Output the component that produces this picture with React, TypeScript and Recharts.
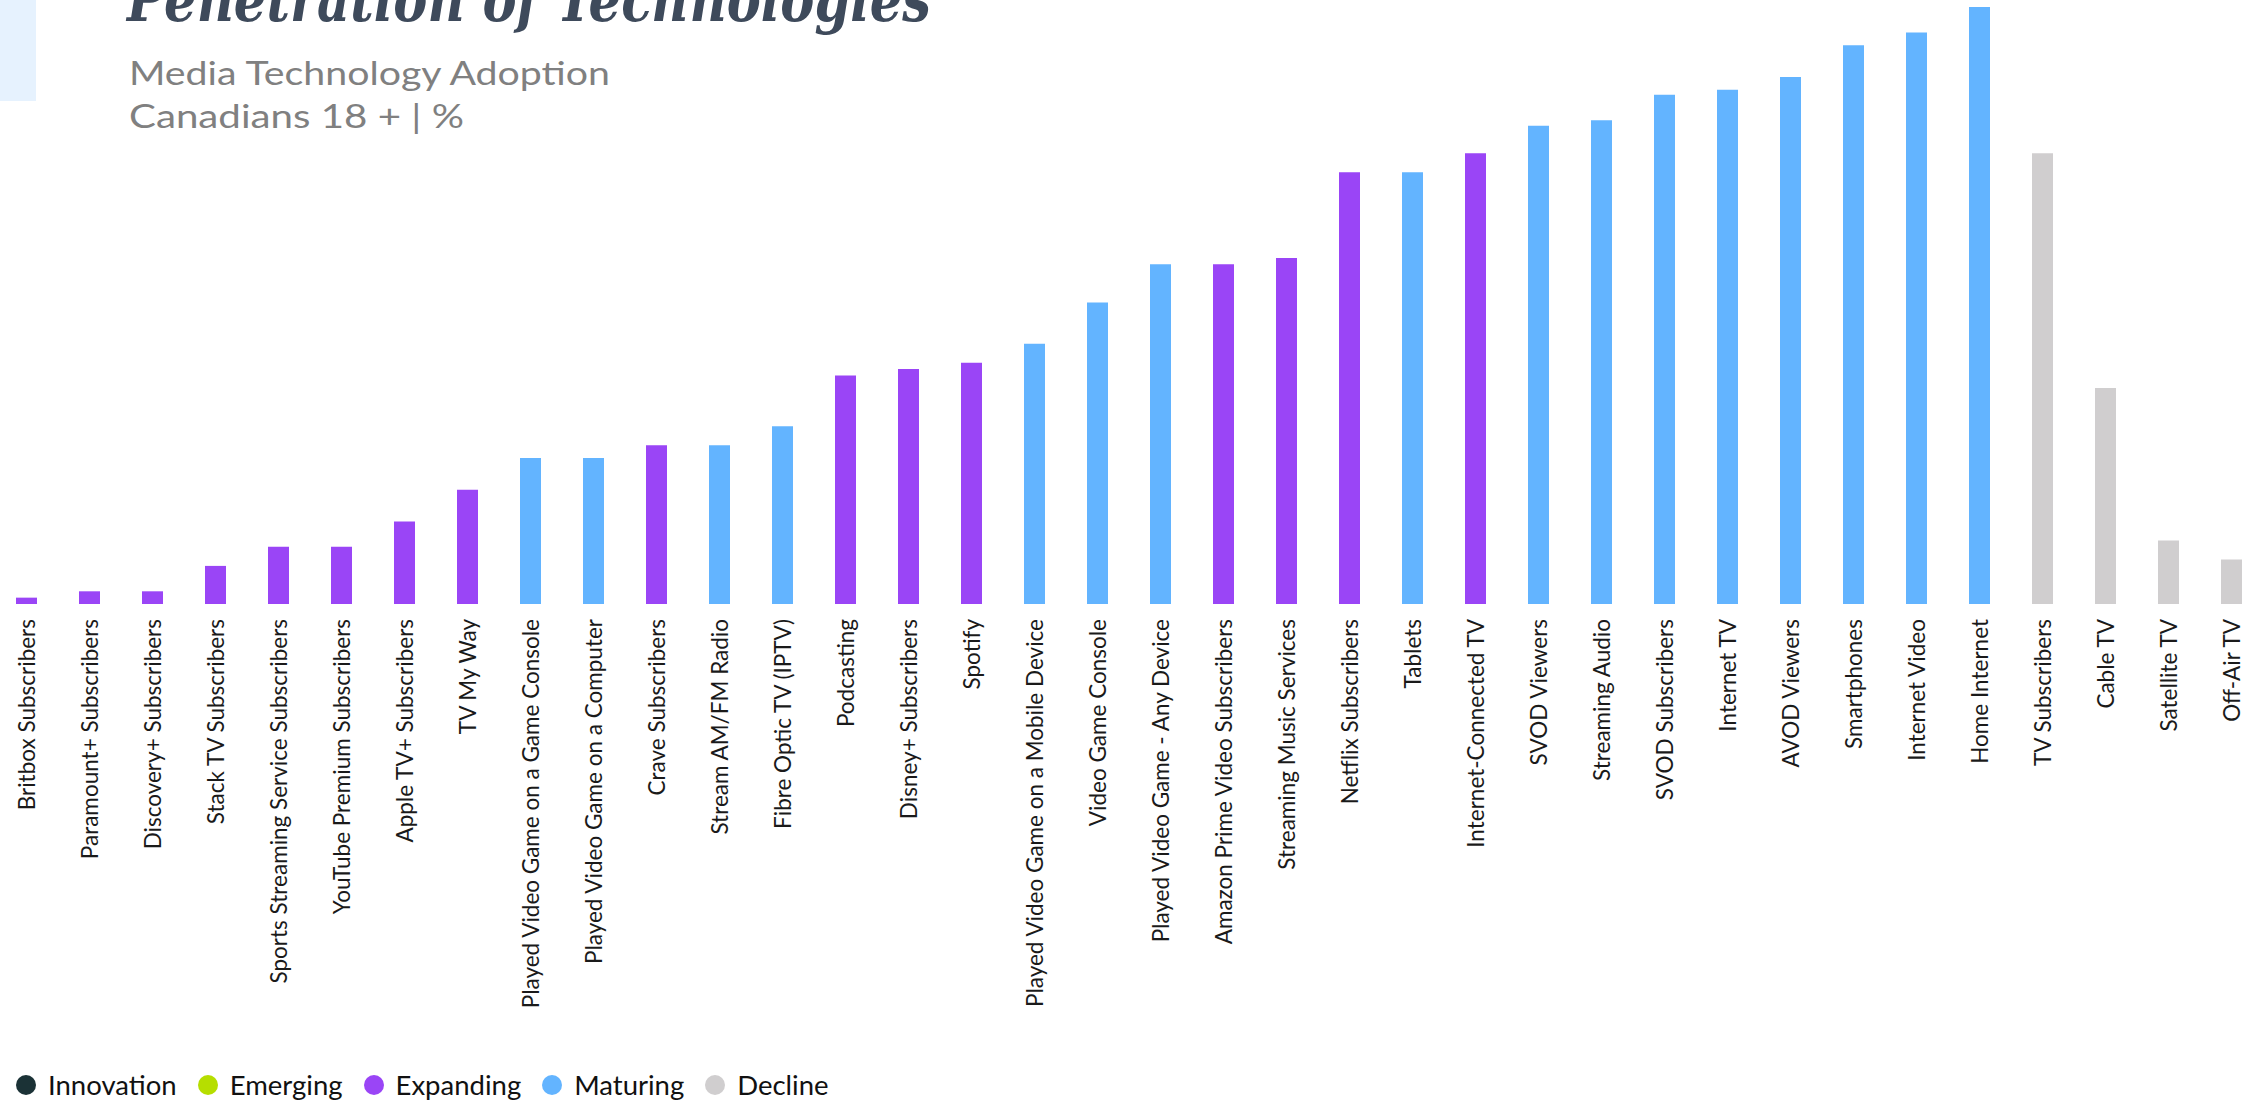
import React from 'react';
import { BarChart, Bar, XAxis, YAxis, Cell } from 'recharts';

const categories = [
  'Britbox Subscribers', 'Paramount+ Subscribers', 'Discovery+ Subscribers', 'Stack TV Subscribers',
  'Sports Streaming Service Subscribers', 'YouTube Premium Subscribers', 'Apple TV+ Subscribers', 'TV My Way',
  'Played Video Game on a Game Console', 'Played Video Game on a Computer', 'Crave Subscribers', 'Stream AM/FM Radio',
  'Fibre Optic TV (IPTV)', 'Podcasting', 'Disney+ Subscribers', 'Spotify',
  'Played Video Game on a Mobile Device', 'Video Game Console', 'Played Video Game - Any Device', 'Amazon Prime Video Subscribers',
  'Streaming Music Services', 'Netflix Subscribers', 'Tablets', 'Internet-Connected TV',
  'SVOD Viewers', 'Streaming Audio', 'SVOD Subscribers', 'Internet TV',
  'AVOD Viewers', 'Smartphones', 'Internet Video', 'Home Internet',
  'TV Subscribers', 'Cable TV', 'Satellite TV', 'Off-Air TV',
];

const values = [
  1, 2, 2, 6, 9, 9, 13, 18,
  23, 23, 25, 25, 28, 36, 37, 38,
  41, 47.5, 53.5, 53.5, 54.5, 68, 68, 71,
  75.3, 76.2, 80.2, 81, 83, 88, 90, 94,
  71, 34, 10, 7,
];

const stages = [
  'Expanding', 'Expanding', 'Expanding', 'Expanding', 'Expanding', 'Expanding', 'Expanding', 'Expanding',
  'Maturing', 'Maturing', 'Expanding', 'Maturing', 'Maturing', 'Expanding', 'Expanding', 'Expanding',
  'Maturing', 'Maturing', 'Maturing', 'Expanding', 'Expanding', 'Expanding', 'Maturing', 'Expanding',
  'Maturing', 'Maturing', 'Maturing', 'Maturing', 'Maturing', 'Maturing', 'Maturing', 'Maturing',
  'Decline', 'Decline', 'Decline', 'Decline',
];

const legendNames = ['Innovation', 'Emerging', 'Expanding', 'Maturing', 'Decline'];
const legendColors = ['#1b3236', '#b6de00', '#9a45f6', '#63b4ff', '#d0cecf'];

const titleText = 'Penetration of Technologies';
const subtitleLines = ['Media Technology Adoption', 'Canadians 18 + | %'];

const colorOf = (stage: string) => legendColors[legendNames.indexOf(stage)];

const data = categories.map((name, i) => ({ name, value: values[i], stage: stages[i] }));

const Tick = (props: any) => {
  const { x, y, payload } = props;
  return (
    <g transform={`translate(${x},${y + 15})`}>
      <text
        transform="rotate(-90)"
        x={0}
        y={0}
        textAnchor="end"
        dominantBaseline="central"
        fontFamily="Lato"
        fontSize={22.5}
        fill="#1a1a1a"
      >
        {payload.value}
      </text>
    </g>
  );
};

export default function App() {
  return (
    <div style={{ position: 'absolute', left: 0, top: 0, width: 2254, height: 1103, overflow: 'hidden', background: '#fff' }}>
      <div style={{ position: 'absolute', left: 0, top: 0, width: 36, height: 101, background: '#e6f2fe' }} />
      <svg style={{ position: 'absolute', left: 0, top: 0 }} width={1000} height={140}>
        <text
          x={127}
          y={21}
          fontFamily="DejaVu Serif"
          fontWeight="bold"
          fontStyle="italic"
          fontSize={62}
          fill="#3e4a5b"
          textLength={804}
          lengthAdjust="spacingAndGlyphs"
        >
          {titleText}
        </text>
        <text x={129} y={85} fontFamily="Lato" fontSize={33} fill="#808080" textLength={481} lengthAdjust="spacingAndGlyphs">
          {subtitleLines[0]}
        </text>
        <text x={129} y={128} fontFamily="Lato" fontSize={33} fill="#808080" textLength={335} lengthAdjust="spacingAndGlyphs">
          {subtitleLines[1]}
        </text>
      </svg>
      <div style={{ position: 'absolute', left: -5.5, top: -40 }}>
        <BarChart width={2268} height={1100} data={data} margin={{ top: 9, right: 0, bottom: 0, left: 0 }}>
          <YAxis hide domain={[0, 100]} />
          <XAxis
            dataKey="name"
            interval={0}
            axisLine={false}
            tickLine={false}
            tickSize={0}
            tickMargin={0}
            height={456}
            tick={<Tick />}
          />
          <Bar dataKey="value" barSize={21} isAnimationActive={false}>
            {data.map((d, i) => (
              <Cell key={i} fill={colorOf(d.stage)} />
            ))}
          </Bar>
        </BarChart>
      </div>
      <div style={{ position: 'absolute', left: 16, top: 1068, display: 'flex', alignItems: 'center', fontFamily: 'Lato', fontSize: 27.5, color: '#111' }}>
        {legendNames.map((n, i) => (
          <div key={n} style={{ display: 'flex', alignItems: 'center', marginRight: 21 }}>
            <span style={{ width: 20, height: 20, borderRadius: 10, background: legendColors[i], display: 'inline-block', marginRight: 12 }} />
            <span>{n}</span>
          </div>
        ))}
      </div>
    </div>
  );
}
